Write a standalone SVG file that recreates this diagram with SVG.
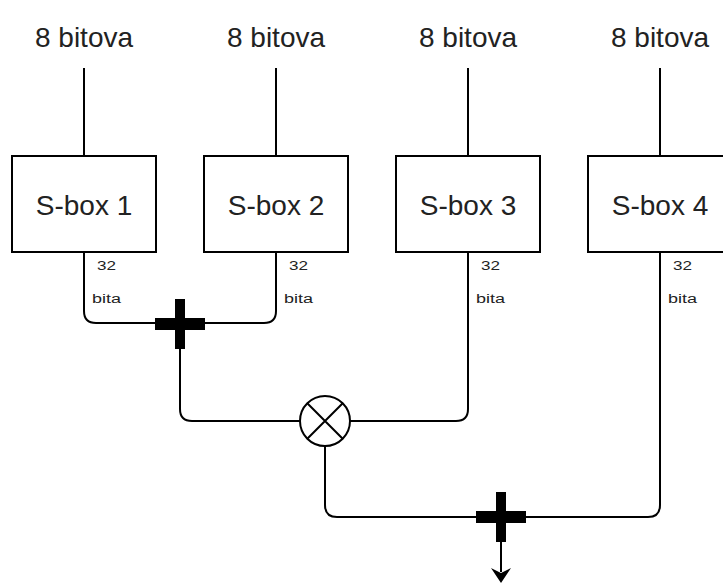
<svg xmlns="http://www.w3.org/2000/svg" width="723" height="583" viewBox="0 0 723 583">
<style>
.box{fill:#fff;stroke:#000;stroke-width:2}
.ln{fill:none;stroke:#000;stroke-width:2}
.big{font-family:"Liberation Sans",Arial,sans-serif;font-size:28px;fill:#222;text-anchor:middle}
.sm{font-family:"Liberation Sans",Arial,sans-serif;font-size:12px;fill:#222}
.cross{fill:#000}
</style>
<defs>
<path id="plus" d="M-5,-25 H5 V-6 H25 V6 H5 V25 H-5 V6 H-25 V-6 H-5 Z"/>
</defs>
<g id="connectors" class="ln">
<path d="M84,68 V156"/>
<path d="M276,68 V156"/>
<path d="M468,68 V156"/>
<path d="M660,68 V156"/>
<path d="M84,252 V311 Q84,323 96,323 H180"/>
<path d="M276,252 V311 Q276,323 264,323 H180"/>
<path d="M180,324 V409 Q180,421 192,421 H300"/>
<path d="M468,252 V409 Q468,421 456,421 H350"/>
<path d="M325,446 V505 Q325,517 337,517 H501"/>
<path d="M660,252 V505 Q660,517 648,517 H501"/>
<path d="M501,517 V572"/>
<path d="M491,568 L501,583 L511,568 L501,573 Z" fill="#000" stroke="none"/>
</g>
<g id="in1"><text class="big" x="84" y="47">8 bitova</text></g>
<g id="in2"><text class="big" x="276" y="47">8 bitova</text></g>
<g id="in3"><text class="big" x="468" y="47">8 bitova</text></g>
<g id="in4"><text class="big" x="660" y="47">8 bitova</text></g>
<g id="sbox1"><rect class="box" x="12" y="156" width="144" height="96"/><text class="big" x="84" y="215">S-box 1</text></g>
<g id="sbox2"><rect class="box" x="204" y="156" width="144" height="96"/><text class="big" x="276" y="215">S-box 2</text></g>
<g id="sbox3"><rect class="box" x="396" y="156" width="144" height="96"/><text class="big" x="468" y="215">S-box 3</text></g>
<g id="sbox4"><rect class="box" x="588" y="156" width="144" height="96"/><text class="big" x="660" y="215">S-box 4</text></g>
<g id="lbl1"><text class="sm" x="97" y="270" textLength="19" lengthAdjust="spacingAndGlyphs">32</text><text class="sm" x="92" y="303" textLength="29" lengthAdjust="spacingAndGlyphs">bita</text></g>
<g id="lbl2"><text class="sm" x="289" y="270" textLength="19" lengthAdjust="spacingAndGlyphs">32</text><text class="sm" x="284" y="303" textLength="29" lengthAdjust="spacingAndGlyphs">bita</text></g>
<g id="lbl3"><text class="sm" x="481" y="270" textLength="19" lengthAdjust="spacingAndGlyphs">32</text><text class="sm" x="476" y="303" textLength="29" lengthAdjust="spacingAndGlyphs">bita</text></g>
<g id="lbl4"><text class="sm" x="673" y="270" textLength="19" lengthAdjust="spacingAndGlyphs">32</text><text class="sm" x="668" y="303" textLength="29" lengthAdjust="spacingAndGlyphs">bita</text></g>
<g id="add1"><use href="#plus" class="cross" x="180" y="324"/></g>
<g id="xor"><circle cx="325" cy="421" r="25" fill="#fff" stroke="#000" stroke-width="2"/><path class="ln" d="M307.3,403.3 L342.7,438.7 M342.7,403.3 L307.3,438.7"/></g>
<g id="add2"><use href="#plus" class="cross" x="501" y="517"/></g>
</svg>
